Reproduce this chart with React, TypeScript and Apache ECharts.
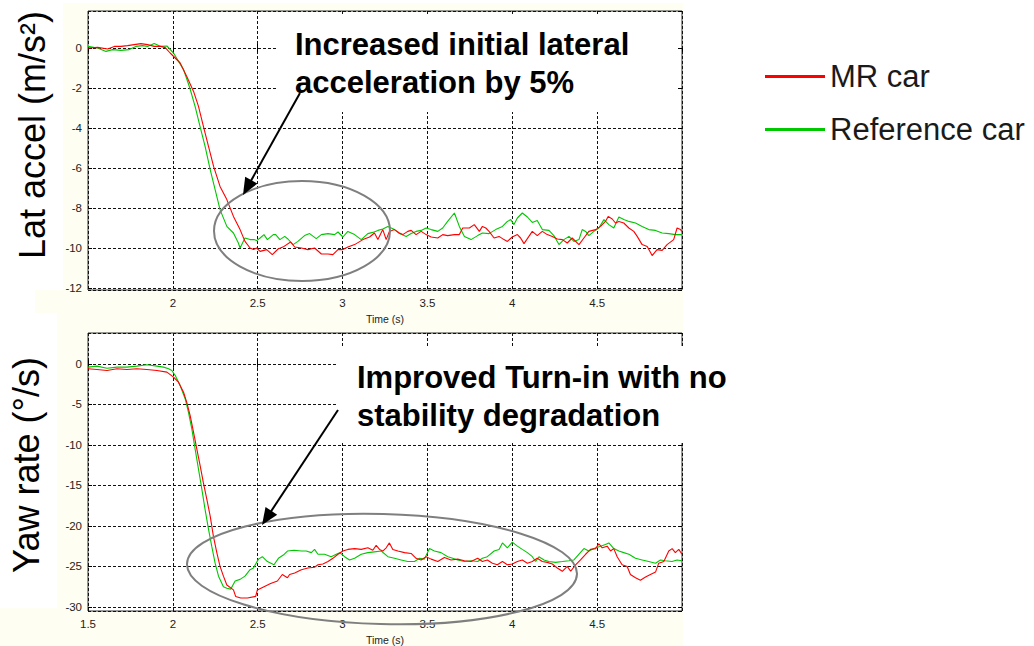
import React, { useEffect, useRef } from "react";
import * as echarts from "echarts";

// Lateral acceleration (m/s²) vs time (s)
const latAccelMr: [number, number][] = [
  [1.5, 0.0], [1.557, 0.03], [1.616, -0.05], [1.655, 0.08], [1.694, 0.08], [1.733, 0.12], [1.772, 0.17],
  [1.812, 0.22], [1.851, 0.17], [1.89, 0.08], [1.929, 0.08], [1.955, 0.02], [1.984, -0.25], [2.043, -0.75],
  [2.082, -1.42], [2.122, -2.17], [2.151, -2.92], [2.18, -3.92], [2.21, -4.92], [2.24, -5.92], [2.278, -6.92],
  [2.318, -7.58], [2.357, -8.42], [2.396, -9.08], [2.425, -9.67], [2.455, -10.0], [2.475, -10.08], [2.494, -10.0],
  [2.514, -10.17], [2.553, -10.08], [2.586, -10.33], [2.62, -10.05], [2.655, -9.92], [2.694, -9.7], [2.718, -9.95],
  [2.757, -10.0], [2.796, -10.08], [2.835, -10.0], [2.875, -10.3], [2.914, -10.3], [2.943, -10.33], [2.973, -10.08],
  [3.002, -10.08], [3.031, -9.95], [3.071, -9.83], [3.12, -9.58], [3.159, -9.45], [3.188, -9.25], [3.208, -9.58],
  [3.237, -9.08], [3.257, -9.58], [3.276, -9.17], [3.306, -9.08], [3.335, -9.25], [3.355, -9.33], [3.384, -9.17],
  [3.404, -9.12], [3.433, -9.33], [3.463, -9.17], [3.492, -9.33], [3.522, -9.45], [3.561, -9.5], [3.59, -9.33],
  [3.619, -9.38], [3.659, -9.33], [3.688, -9.33], [3.708, -9.0], [3.747, -9.0], [3.776, -8.83], [3.806, -9.17],
  [3.824, -8.92], [3.844, -9.0], [3.863, -9.17], [3.893, -9.5], [3.922, -9.42], [3.951, -9.58], [3.971, -9.67],
  [4.0, -9.45], [4.03, -9.33], [4.049, -9.5], [4.069, -9.78], [4.098, -9.42], [4.118, -9.17], [4.147, -9.38],
  [4.177, -9.17], [4.206, -9.33], [4.236, -9.42], [4.265, -9.55], [4.295, -9.58], [4.324, -9.75], [4.353, -9.5],
  [4.393, -9.83], [4.422, -9.5], [4.451, -9.17], [4.491, -9.08], [4.52, -8.92], [4.549, -8.67], [4.565, -8.42],
  [4.589, -8.55], [4.608, -8.75], [4.628, -8.67], [4.657, -8.75], [4.687, -9.0], [4.716, -9.17], [4.736, -9.42],
  [4.765, -9.83], [4.795, -9.92], [4.824, -10.38], [4.853, -10.08], [4.883, -10.12], [4.912, -9.83], [4.951, -9.58],
  [4.971, -9.0], [4.991, -9.08], [5.0, -9.17],
];

const latAccelRef: [number, number][] = [
  [1.5, 0.08], [1.557, 0.0], [1.606, -0.17], [1.645, -0.08], [1.694, -0.12], [1.743, -0.08], [1.782, 0.08],
  [1.821, 0.12], [1.851, 0.08], [1.89, 0.22], [1.929, 0.08], [1.965, 0.1], [2.004, -0.25], [2.063, -1.08],
  [2.1, -2.0], [2.131, -2.92], [2.16, -3.92], [2.19, -4.92], [2.22, -6.08], [2.249, -7.08], [2.278, -8.08],
  [2.318, -8.92], [2.357, -9.25], [2.386, -9.75], [2.396, -10.0], [2.425, -9.5], [2.455, -9.58], [2.478, -9.58],
  [2.494, -9.63], [2.514, -9.5], [2.537, -9.33], [2.557, -9.58], [2.592, -9.33], [2.606, -9.33], [2.631, -9.58],
  [2.659, -9.42], [2.678, -9.55], [2.708, -9.83], [2.737, -9.67], [2.776, -9.38], [2.806, -9.28], [2.845, -9.53],
  [2.875, -9.33], [2.914, -9.28], [2.953, -9.33], [2.973, -9.2], [3.002, -9.45], [3.031, -9.17], [3.071, -9.33],
  [3.11, -9.58], [3.149, -9.28], [3.178, -9.22], [3.208, -9.12], [3.237, -9.05], [3.267, -8.92], [3.306, -9.08],
  [3.335, -9.28], [3.375, -9.42], [3.404, -9.28], [3.433, -9.17], [3.463, -9.12], [3.492, -9.0], [3.522, -9.08],
  [3.561, -9.17], [3.59, -9.0], [3.619, -8.67], [3.659, -8.25], [3.688, -8.92], [3.718, -9.42], [3.757, -9.58],
  [3.796, -9.38], [3.824, -9.25], [3.863, -9.28], [3.902, -9.08], [3.942, -8.92], [3.971, -8.67], [3.991, -8.58],
  [4.01, -8.83], [4.03, -8.5], [4.059, -8.25], [4.089, -8.45], [4.118, -8.72], [4.147, -8.62], [4.177, -9.08],
  [4.216, -9.12], [4.245, -9.38], [4.275, -9.83], [4.304, -9.58], [4.334, -9.42], [4.363, -9.67], [4.393, -9.58],
  [4.412, -9.08], [4.432, -9.17], [4.451, -9.38], [4.481, -9.17], [4.51, -9.0], [4.54, -8.58], [4.569, -8.83],
  [4.598, -9.0], [4.628, -8.45], [4.657, -8.58], [4.687, -8.67], [4.726, -8.75], [4.765, -8.92], [4.804, -9.08],
  [4.844, -9.12], [4.883, -9.25], [4.922, -9.28], [4.961, -9.33], [5.0, -9.33],
];

// Yaw rate (°/s) vs time (s)
const yawRateMr: [number, number][] = [
  [1.5, -0.62], [1.553, -0.7], [1.612, -0.83], [1.671, -0.62], [1.729, -0.7], [1.788, -0.62], [1.847, -0.7],
  [1.906, -0.83], [1.965, -1.03], [2.004, -1.65], [2.033, -2.27], [2.063, -3.51], [2.082, -4.75], [2.102, -6.4],
  [2.122, -8.47], [2.141, -10.5], [2.161, -12.6], [2.18, -14.7], [2.2, -16.7], [2.22, -18.8], [2.239, -21.3],
  [2.259, -23.3], [2.278, -25.0], [2.298, -26.2], [2.318, -27.3], [2.357, -27.9], [2.37, -28.7], [2.4, -28.9],
  [2.44, -28.9], [2.488, -28.7], [2.498, -27.9], [2.537, -27.5], [2.576, -27.1], [2.616, -26.8], [2.645, -26.0],
  [2.675, -26.4], [2.688, -26.0], [2.718, -25.8], [2.757, -25.4], [2.796, -25.2], [2.835, -25.1], [2.855, -24.8],
  [2.884, -24.7], [2.914, -24.4], [2.943, -24.0], [2.973, -23.5], [3.002, -23.1], [3.031, -22.9], [3.071, -22.8],
  [3.11, -22.9], [3.149, -22.7], [3.178, -23.0], [3.198, -22.4], [3.218, -22.9], [3.237, -23.1], [3.257, -22.7],
  [3.276, -22.1], [3.296, -22.9], [3.326, -23.1], [3.365, -23.3], [3.404, -23.4], [3.433, -24.0], [3.463, -24.2],
  [3.492, -23.8], [3.522, -24.1], [3.561, -24.4], [3.6, -23.9], [3.639, -24.2], [3.678, -24.1], [3.718, -24.3],
  [3.757, -24.4], [3.796, -24.0], [3.824, -24.4], [3.853, -24.2], [3.883, -24.6], [3.912, -24.8], [3.942, -24.4],
  [3.971, -24.8], [4.0, -24.7], [4.03, -24.4], [4.059, -24.2], [4.089, -24.6], [4.118, -24.4], [4.147, -24.0],
  [4.177, -24.4], [4.206, -24.5], [4.236, -24.7], [4.265, -25.2], [4.295, -25.6], [4.324, -25.0], [4.344, -25.6],
  [4.373, -24.8], [4.402, -24.2], [4.432, -23.5], [4.461, -22.9], [4.491, -22.8], [4.51, -22.2], [4.53, -22.7],
  [4.559, -22.5], [4.579, -23.1], [4.598, -22.8], [4.618, -23.8], [4.647, -24.8], [4.677, -25.0], [4.696, -26.0],
  [4.726, -26.4], [4.755, -26.7], [4.785, -26.3], [4.814, -26.0], [4.844, -25.7], [4.863, -24.6], [4.893, -24.4],
  [4.922, -23.1], [4.942, -22.8], [4.961, -23.3], [4.981, -22.9], [5.0, -23.5],
];

const yawRateRef: [number, number][] = [
  [1.5, -0.41], [1.553, -0.29], [1.612, -0.54], [1.671, -0.41], [1.729, -0.41], [1.788, -0.29], [1.847, -0.12],
  [1.906, -0.29], [1.945, -0.41], [1.975, -0.62], [1.994, -0.83], [2.014, -1.45], [2.043, -2.69], [2.073, -4.34],
  [2.092, -5.99], [2.112, -8.05], [2.131, -10.5], [2.151, -13.0], [2.171, -15.5], [2.19, -18.0], [2.21, -20.4],
  [2.229, -22.5], [2.249, -24.6], [2.269, -26.2], [2.298, -27.5], [2.318, -27.7], [2.341, -27.8], [2.367, -26.8],
  [2.396, -26.6], [2.425, -26.2], [2.455, -25.4], [2.475, -25.2], [2.504, -24.1], [2.527, -23.8], [2.557, -24.4],
  [2.596, -24.8], [2.622, -24.0], [2.651, -23.6], [2.675, -23.1], [2.714, -23.0], [2.757, -23.1], [2.786, -23.1],
  [2.816, -23.3], [2.835, -22.9], [2.855, -23.5], [2.894, -23.5], [2.933, -23.8], [2.963, -23.5], [2.983, -23.3],
  [3.012, -23.8], [3.041, -24.2], [3.071, -24.0], [3.11, -23.5], [3.149, -23.3], [3.188, -23.2], [3.228, -23.1],
  [3.267, -23.8], [3.306, -24.0], [3.345, -24.2], [3.384, -24.4], [3.424, -24.4], [3.453, -24.0], [3.482, -24.1],
  [3.512, -22.8], [3.541, -23.1], [3.58, -23.3], [3.62, -23.8], [3.649, -24.0], [3.678, -24.2], [3.718, -24.4],
  [3.757, -24.3], [3.796, -24.4], [3.824, -24.0], [3.853, -23.8], [3.893, -23.1], [3.922, -22.9], [3.942, -22.1],
  [3.971, -22.7], [4.0, -22.0], [4.03, -22.5], [4.059, -22.9], [4.089, -23.3], [4.118, -23.8], [4.138, -24.4],
  [4.157, -23.8], [4.187, -24.2], [4.216, -24.4], [4.255, -24.5], [4.295, -24.4], [4.334, -24.3], [4.363, -24.2],
  [4.392, -23.5], [4.422, -22.8], [4.451, -23.1], [4.481, -22.8], [4.52, -22.5], [4.549, -22.3], [4.569, -22.1],
  [4.598, -22.8], [4.628, -23.1], [4.657, -23.3], [4.687, -23.5], [4.726, -24.0], [4.765, -24.2], [4.804, -24.4],
  [4.844, -24.6], [4.873, -24.2], [4.902, -24.3], [4.941, -24.4], [4.971, -24.2], [5.0, -24.3],
];

const seriesNames = ["MR car", "Reference car"];
const seriesColors = ["#ff0000", "#00c800"];
const timeRange = [1.5, 5.0];
const latRange = [-12.1, 1.85];
const yawRange = [-30.5, 3.8];
const axisTitles = ["Lat accel (m/s²)", "Yaw rate (°/s)"];
const xAxisTitle = "Time (s)";
const noteTop = ["Increased initial lateral", "acceleration by 5%"];
const noteBottom = ["Improved Turn-in with no", "stability degradation"];

const FONT = 'Arial, "Liberation Sans", Helvetica, sans-serif';
const CREAM = "#fefef2";
const GRID_LINE = { type: [3, 2], color: "#111", width: 1 };

function arrow(x1: number, y1: number, x2: number, y2: number) {
  const len = Math.hypot(x2 - x1, y2 - y1);
  const ux = (x2 - x1) / len;
  const uy = (y2 - y1) / len;
  const head = 17;
  const half = 7;
  const bx = x2 - ux * head;
  const by = y2 - uy * head;
  return [
    {
      type: "line",
      z: 60,
      shape: { x1, y1, x2: bx + ux * 2, y2: by + uy * 2 },
      style: { stroke: "#000", lineWidth: 2 },
    },
    {
      type: "polygon",
      z: 60,
      shape: {
        points: [
          [x2, y2],
          [bx - uy * half, by + ux * half],
          [bx + uy * half, by - ux * half],
        ],
      },
      style: { fill: "#000" },
    },
  ];
}

function xAxisFor(gridIndex: number, showFirst: boolean) {
  return {
    type: "value",
    gridIndex,
    min: timeRange[0],
    max: timeRange[1],
    splitNumber: 7,
    axisLine: { show: false },
    axisTick: { show: true, inside: true, length: 4, lineStyle: { color: "#000" } },
    axisLabel: {
      showMinLabel: showFirst,
      showMaxLabel: false,
      margin: 7,
      fontSize: 11.5,
      fontFamily: FONT,
      color: "#222",
      formatter: (v: number) => String(v),
    },
    splitLine: { show: true, lineStyle: GRID_LINE },
    name: xAxisTitle,
    nameLocation: "middle",
    nameGap: 23,
    nameTextStyle: { fontSize: 10.5, fontFamily: FONT, color: "#222" },
  };
}

function tickOnlyX(gridIndex: number) {
  return {
    type: "value",
    gridIndex,
    position: "top",
    min: timeRange[0],
    max: timeRange[1],
    splitNumber: 7,
    axisLine: { show: false },
    axisTick: { show: true, inside: true, length: 4, lineStyle: { color: "#000" } },
    axisLabel: { show: false },
    splitLine: { show: false },
  };
}

function yAxisFor(gridIndex: number, range: number[]) {
  return {
    type: "value",
    gridIndex,
    min: range[0],
    max: range[1],
    splitNumber: 7,
    axisLine: { show: false },
    axisTick: { show: true, inside: true, length: 4, lineStyle: { color: "#000" } },
    axisLabel: {
      showMinLabel: false,
      showMaxLabel: false,
      margin: 6,
      fontSize: 11.5,
      fontFamily: FONT,
      color: "#222",
      formatter: (v: number) => String(v),
    },
    splitLine: { show: true, lineStyle: GRID_LINE },
  };
}

function tickOnlyY(gridIndex: number, range: number[]) {
  return {
    type: "value",
    gridIndex,
    position: "right",
    min: range[0],
    max: range[1],
    splitNumber: 7,
    axisLine: { show: false },
    axisTick: { show: true, inside: true, length: 4, lineStyle: { color: "#000" } },
    axisLabel: { show: false },
    splitLine: { show: false },
  };
}

function lineSeries(name: string, color: string, data: [number, number][], axis: number, z: number) {
  return {
    type: "line",
    name,
    data,
    xAxisIndex: axis,
    yAxisIndex: axis,
    symbol: "none",
    showSymbol: false,
    z,
    lineStyle: { color, width: 1.1 },
    itemStyle: { color },
  };
}

function noteText(x: number, y: number, text: string) {
  return {
    type: "text",
    z: 60,
    x,
    y,
    style: {
      text,
      fontSize: 31,
      fontWeight: "bold",
      fontFamily: FONT,
      fill: "#000",
      align: "left",
      verticalAlign: "middle",
    },
  };
}

export default function App() {
  const ref = useRef<HTMLDivElement>(null);

  useEffect(() => {
    if (!ref.current) return;
    const chart = echarts.init(ref.current, null, { renderer: "svg" });

    const option = {
      animation: false,
      backgroundColor: "#ffffff",
      grid: [
        { left: 88, top: 11, width: 594, height: 279, show: true, backgroundColor: "#fff", borderColor: "#333", borderWidth: 1 },
        { left: 88, top: 333, width: 594, height: 278, show: true, backgroundColor: "#fff", borderColor: "#333", borderWidth: 1 },
      ],
      xAxis: [xAxisFor(0, false), xAxisFor(1, true), tickOnlyX(0), tickOnlyX(1)],
      yAxis: [yAxisFor(0, latRange), yAxisFor(1, yawRange), tickOnlyY(0, latRange), tickOnlyY(1, yawRange)],
      legend: {
        data: seriesNames,
        orient: "vertical",
        left: 765,
        top: 61,
        padding: 0,
        icon: "rect",
        itemWidth: 60,
        itemHeight: 3,
        itemGap: 22,
        selectedMode: false,
        textStyle: { fontSize: 31, lineHeight: 31, fontFamily: FONT, color: "#1a1a1a" },
      },
      series: [
        lineSeries(seriesNames[1], seriesColors[1], latAccelRef, 0, 2),
        lineSeries(seriesNames[0], seriesColors[0], latAccelMr, 0, 3),
        lineSeries(seriesNames[1], seriesColors[1], yawRateRef, 1, 2),
        lineSeries(seriesNames[0], seriesColors[0], yawRateMr, 1, 3),
      ],
      graphic: [
        // cream panels behind the two plots
        { type: "rect", z: -10, shape: { x: 63, y: 3, width: 620, height: 310 }, style: { fill: CREAM } },
        { type: "rect", z: -10, shape: { x: 35, y: 290, width: 648, height: 23 }, style: { fill: CREAM } },
        { type: "rect", z: -10, shape: { x: 57, y: 313, width: 626, height: 333 }, style: { fill: CREAM } },
        { type: "rect", z: -10, shape: { x: 0, y: 608, width: 57, height: 38 }, style: { fill: CREAM } },
        // note backgrounds
        { type: "rect", z: 50, shape: { x: 277, y: 16, width: 400, height: 96 }, style: { fill: "#fff" } },
        { type: "rect", z: 50, shape: { x: 337, y: 346, width: 428, height: 97 }, style: { fill: "#fff" } },
        // axis titles
        {
          type: "text",
          z: 60,
          x: 32.5,
          y: 135,
          rotation: Math.PI / 2,
          style: { text: axisTitles[0], fontSize: 36, fontFamily: FONT, fill: "#000", align: "center", verticalAlign: "middle" },
        },
        {
          type: "text",
          z: 60,
          x: 26.5,
          y: 465,
          rotation: Math.PI / 2,
          style: { text: axisTitles[1], fontSize: 36, fontFamily: FONT, fill: "#000", align: "center", verticalAlign: "middle" },
        },
        // notes
        noteText(295, 44.5, noteTop[0]),
        noteText(295, 82, noteTop[1]),
        noteText(357, 377.5, noteBottom[0]),
        noteText(357, 415.5, noteBottom[1]),
        // highlighted regions
        {
          type: "ellipse",
          z: 60,
          shape: { cx: 302, cy: 231, rx: 88, ry: 50 },
          style: { fill: "none", stroke: "#7f7f7f", lineWidth: 2 },
        },
        {
          type: "ellipse",
          z: 60,
          x: 382,
          y: 569,
          rotation: -0.026,
          shape: { cx: 0, cy: 0, rx: 195, ry: 55 },
          style: { fill: "none", stroke: "#7f7f7f", lineWidth: 2 },
        },
        ...arrow(300, 93, 243, 195),
        ...arrow(338, 410, 262, 525),
      ],
    };

    chart.setOption(option as any);
    return () => chart.dispose();
  }, []);

  return (
    <div
      ref={ref}
      style={{ position: "fixed", left: 0, top: 0, width: 1034, height: 646, background: "#fff" }}
    />
  );
}
